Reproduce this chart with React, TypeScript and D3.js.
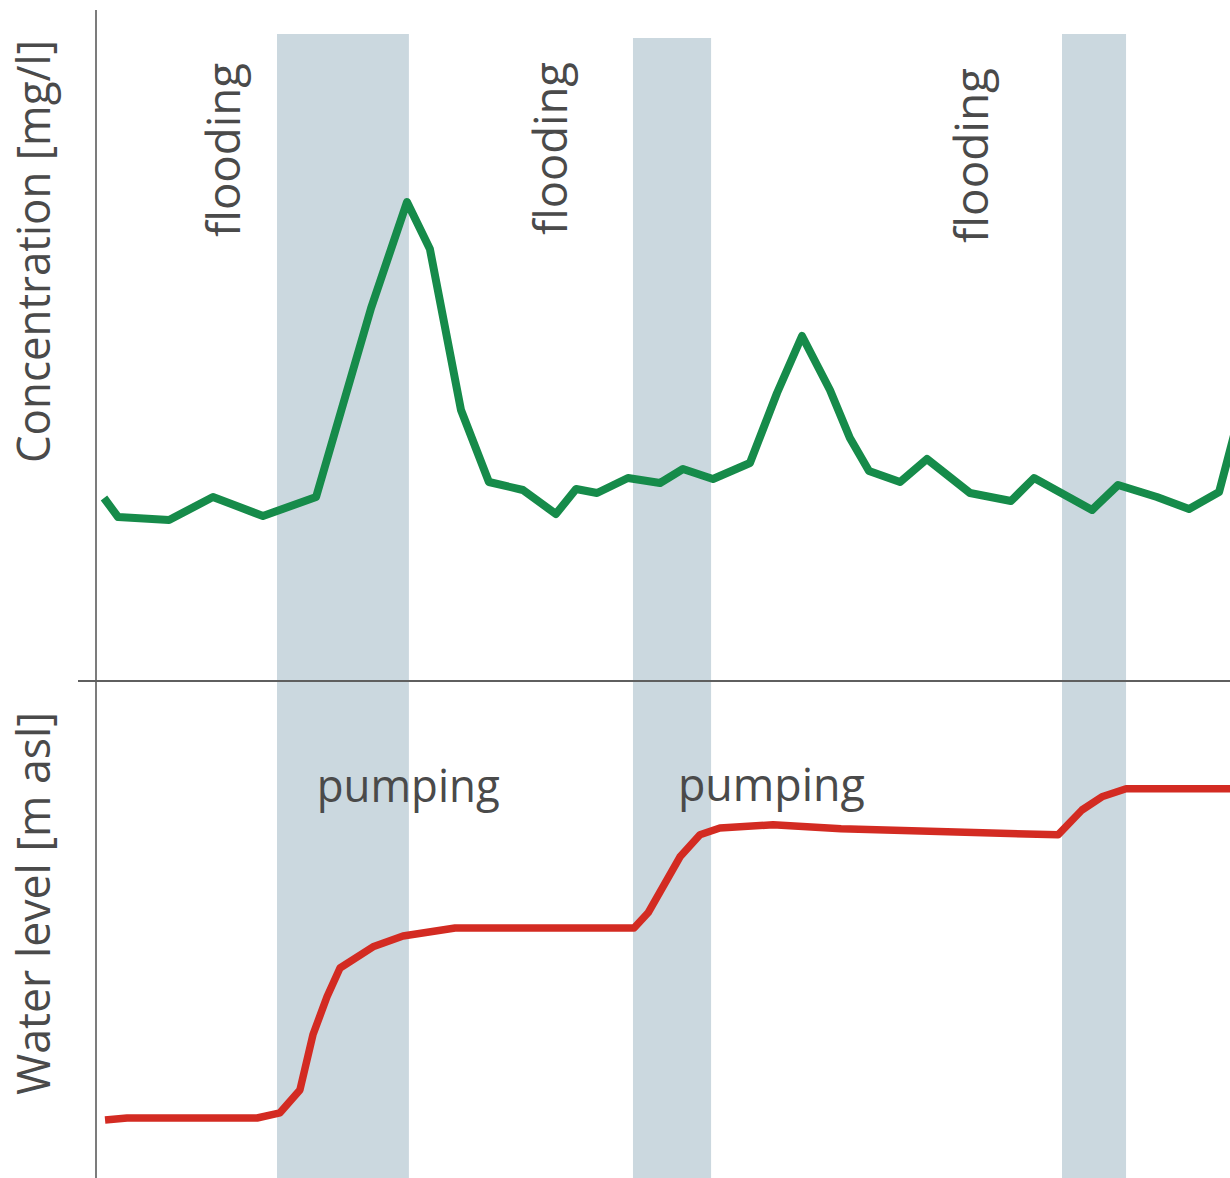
import React from "react";
import * as d3 from "d3";

// ---- data (time in days, concentration in mg/l, water level in m asl, arbitrary units) ----
const concDays = [0.38, 1.05, 3.48, 5.57, 7.95, 10.48, 13.1, 14.81, 15.9, 17.38, 18.71, 20.33, 21.9, 22.86, 23.86, 25.33, 26.86, 27.95, 29.38, 31.14, 32.43, 33.62, 34.95, 35.9, 36.81, 38.29, 39.57, 41.62, 43.57, 44.67, 47.43, 48.67, 50.52, 52.05, 53.48, 54.38];
const concValues = [3.24, 2.86, 2.8, 3.26, 2.88, 3.26, 7.04, 9.16, 8.22, 5.0, 3.56, 3.4, 2.92, 3.42, 3.34, 3.64, 3.54, 3.82, 3.62, 3.94, 5.34, 6.48, 5.4, 4.44, 3.78, 3.56, 4.02, 3.34, 3.18, 3.64, 3.0, 3.5, 3.26, 3.02, 3.36, 4.8];

const levelDays = [0.43, 1.48, 7.67, 8.76, 9.71, 10.33, 11.0, 11.62, 13.19, 14.62, 17.1, 25.62, 26.29, 27.81, 28.76, 29.71, 32.24, 35.48, 45.81, 46.95, 47.9, 49.05, 54.0];
const levelValues = [0.75, 0.8, 0.8, 0.93, 1.5, 2.88, 3.83, 4.55, 5.08, 5.35, 5.55, 5.55, 5.93, 7.33, 7.88, 8.05, 8.13, 8.03, 7.88, 8.5, 8.83, 9.03, 9.03];

// pumping periods (start day, end day)
const pumpStart = [8.62, 25.57, 46.0];
const pumpEnd = [14.9, 29.29, 49.05];

// annotations
const floodLabels = ["flooding", "flooding", "flooding"];
const floodDay = [6.86, 22.43, 42.48];
const floodConc = [10.2, 10.23, 10.09];
const pumpLabels = ["pumping", "pumping"];
const pumpLabelDay = [10.51, 27.71];
const pumpLabelLevel = [8.7, 8.73];

const yLabelTop = "Concentration [mg/l]";
const yLabelBottom = "Water level [m asl]";

const W = 1230;
const H = 1178;

export default function App() {
  const x = d3.scaleLinear().domain([0, 54]).range([96, 1230]);
  const yC = d3.scaleLinear().domain([0, 10]).range([660, 160]);
  const yL = d3.scaleLinear().domain([0, 10]).range([1150, 750]);

  const concLine = d3
    .line<number>()
    .x((_, i) => x(concDays[i]))
    .y((d) => yC(d));
  const levelLine = d3
    .line<number>()
    .x((_, i) => x(levelDays[i]))
    .y((d) => yL(d));

  const font = "'Open Sans', 'Noto Sans', 'DejaVu Sans', sans-serif";
  const textColor = "#4a4a4a";
  const fs = 45;
  const floodLen = [174, 173, 175];
  const pumpLen = [183, 187];

  return (
    <svg
      width={W}
      height={H}
      viewBox={`0 0 ${W} ${H}`}
      style={{ position: "absolute", left: 0, top: 0, display: "block", background: "#fff" }}
    >
      <defs>
        <clipPath id="plot">
          <rect x={0} y={0} width={W} height={H} />
        </clipPath>
      </defs>
      <rect x={0} y={0} width={W} height={H} fill="#fff" />

      {/* pumping bands */}
      {pumpStart.map((s, i) => (
        <rect
          key={"band" + i}
          x={x(s)}
          y={i === 1 ? 38 : 34}
          width={x(pumpEnd[i]) - x(s)}
          height={H - (i === 1 ? 38 : 34)}
          fill="#cbd8df"
        />
      ))}

      {/* axes */}
      <line x1={96} x2={96} y1={10} y2={H} stroke="#6e6e6e" strokeWidth={1.8} />
      <line x1={78} x2={W} y1={681} y2={681} stroke="#5f5f5f" strokeWidth={2} />

      {/* series */}
      <g clipPath="url(#plot)">
        <path
          d={concLine(concValues) || ""}
          fill="none"
          stroke="#168b4a"
          strokeWidth={8}
          strokeLinejoin="round"
        />
        <path
          d={levelLine(levelValues) || ""}
          fill="none"
          stroke="#d32b22"
          strokeWidth={7.5}
          strokeLinejoin="round"
        />
      </g>

      {/* axis titles */}
      <text
        transform={`translate(50,${251.5}) rotate(-90)`}
        textAnchor="middle"
        fontFamily={font}
        fontSize={fs}
        fill={textColor}
        textLength={423}
        lengthAdjust="spacingAndGlyphs"
      >
        {yLabelTop}
      </text>
      <text
        transform={`translate(50,${903.5}) rotate(-90)`}
        textAnchor="middle"
        fontFamily={font}
        fontSize={fs}
        fill={textColor}
        textLength={383}
        lengthAdjust="spacingAndGlyphs"
      >
        {yLabelBottom}
      </text>

      {/* flooding labels */}
      {floodLabels.map((t, i) => (
        <text
          key={"fl" + i}
          transform={`translate(${x(floodDay[i])},${yC(floodConc[i])}) rotate(-90)`}
          textAnchor="middle"
          fontFamily={font}
          fontSize={fs}
          fill={textColor}
          textLength={floodLen[i]}
          lengthAdjust="spacingAndGlyphs"
        >
          {t}
        </text>
      ))}

      {/* pumping labels */}
      {pumpLabels.map((t, i) => (
        <text
          key={"pl" + i}
          x={x(pumpLabelDay[i])}
          y={yL(pumpLabelLevel[i])}
          textAnchor="start"
          fontFamily={font}
          fontSize={fs}
          fill={textColor}
          textLength={pumpLen[i]}
          lengthAdjust="spacingAndGlyphs"
        >
          {t}
        </text>
      ))}
    </svg>
  );
}
